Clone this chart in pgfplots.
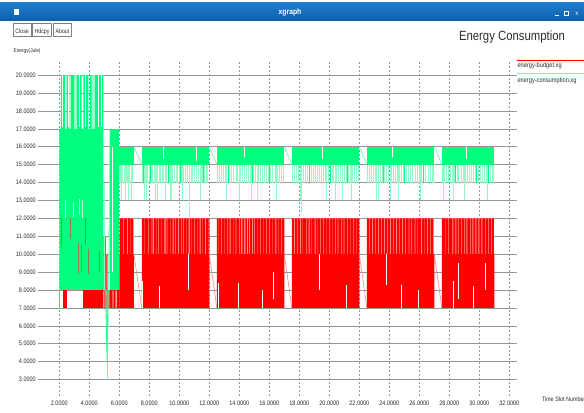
\documentclass[border=0pt]{standalone}
\usepackage{pgfplots}
\pgfplotsset{compat=1.18}
\usepackage{fontspec}
\setmainfont{Liberation Sans}[FakeStretch=0.85]
\definecolor{sg}{RGB}{0,255,127}
\definecolor{sgpale}{RGB}{150,250,200}
\definecolor{redpale}{RGB}{255,150,150}
\definecolor{brn}{RGB}{175,95,50}
\definecolor{gridc}{RGB}{150,150,150}
\definecolor{txt}{RGB}{45,45,45}
\definecolor{bart}{RGB}{30,125,205}
\definecolor{barb}{RGB}{15,95,170}
\newcommand\tickf{\fontsize{6.5}{7}\selectfont}
\begin{document}
\begin{tikzpicture}[x=1bp,y=1bp]
\fill[white] (0,0) rectangle (584,412);
% window title bar
\shade[top color=bart, bottom color=barb] (0,391) rectangle (584,409);
\fill[white] (14,397) rectangle (19,403);
\node[anchor=base, text=white, font=\bfseries\fontsize{8}{9}\selectfont] at (290,397) {xgraph};
\draw[white, line width=0.8bp] (555,396.5) -- (558.5,396.5);
\draw[white, line width=0.6bp] (564,396.5) rectangle (568,400.5);
\node[anchor=base, text=white, font=\fontsize{6.5}{7}\selectfont] at (577,396.5) {x};
% buttons
\foreach \a/\b/\t in {13.3/31/Close, 32.3/51.7/Hdcpy, 53.3/71.7/About}{
  \draw[gray, line width=0.6bp, fill=white] (\a,375.3) rectangle (\b,388.7);
  \node[anchor=base, text=txt, font=\fontsize{6.2}{7}\selectfont] at ({(\a+\b)/2},378.8) {\t};
}
\node[anchor=base west, inner sep=0pt, text=txt, font=\fontsize{5.6}{7}\selectfont] at (13.5,360) {Energy(Jule)};
\node[anchor=base, inner sep=0pt, text=txt, font=\fontsize{13.4}{15}\selectfont] at (512,372) {Energy Consumption};

\begin{axis}[
  at={(37.5bp,16bp)}, anchor=south west, scale only axis,
  width=479.5bp, height=336bp,
  xmin=0.547, xmax=32.51, ymin=2.08, ymax=20.84,
  axis line style={draw=none}, major tick length=0pt,
  xtick={2,4,...,32}, ytick={3,4,...,20},
  grid=major,
  x grid style={gridc, dash pattern=on 2bp off 2bp, line width=0.5bp},
  y grid style={gridc, line width=0.5bp},
  xticklabel style={font=\tickf, anchor=north, inner sep=0pt, yshift=-5bp, text=txt},
  yticklabel style={font=\tickf, anchor=east, inner sep=0pt, xshift=-1.5bp, text=txt},
  /pgf/number format/fixed, /pgf/number format/fixed zerofill,
  /pgf/number format/precision=4, /pgf/number format/assume math mode=true,
  no markers, clip=true,
]
% ---------------- energy-budget (red) ----------------
\addplot[draw=none, fill=redpale] coordinates {(6.02,10)(6.02,12)(6.97,12)(6.97,10)};
\addplot[draw=none, fill=redpale] coordinates {(7.5,10)(7.5,12)(12.0,12)(12.0,10)};
\addplot[draw=none, fill=redpale] coordinates {(12.5,10)(12.5,12)(17.0,12)(17.0,10)};
\addplot[draw=none, fill=redpale] coordinates {(17.5,10)(17.5,12)(22.0,12)(22.0,10)};
\addplot[draw=none, fill=redpale] coordinates {(22.5,10)(22.5,12)(27.0,12)(27.0,10)};
\addplot[draw=none, fill=redpale] coordinates {(27.5,10)(27.5,12)(31.0,12)(31.0,10)};
% early blocks
\addplot[red!50!white, line width=0.5bp, quiver={u=0,v=\thisrow{v}}] table[row sep=\\] {x y v\\ 2.0 7 1\\};
\addplot[draw=none, fill=red] coordinates {(2.27,7)(2.27,8)(2.49,8)(2.49,7)};
\addplot[draw=none, fill=red] coordinates {(3.60,7)(3.60,8)(4.93,8)(4.93,7)};
\addplot[const plot, draw=none, fill=red!70!white] table[row sep=\\] {x y\\ 4.93 7\\ 4.93 11\\ 5.10 10\\ 5.22 8\\ 5.38 7\\};
\addplot[const plot, draw=none, fill=red] table[row sep=\\] {x y\\ 5.38 7\\ 5.38 8\\ 5.55 7\\ 5.60 8\\ 5.76 7\\ 5.82 8\\ 6.02 7\\};
\addplot[draw=none, fill=red!45!white] coordinates {(5.85,8)(5.85,10)(6.02,10)(6.02,8)};
% segments: band 7-10 with spikes to 12
\addplot[const plot, draw=none, fill=red] table[row sep=\\] {x y\\
6.02 7\\ 6.02 12\\ 6.25 10\\ 6.30 12\\ 6.52 10\\ 6.58 12\\ 6.70 10\\ 6.74 12\\ 6.90 10\\ 6.97 7\\};
\addplot[const plot, draw=none, fill=red] table[row sep=\\] {x y\\
7.50 7\\ 7.50 12\\ 7.68 10\\ 7.72 12\\ 7.90 10\\ 7.95 12\\ 8.10 10\\ 8.14 12\\ 8.22 10\\ 8.30 12\\
8.45 10\\ 8.49 12\\ 8.60 10\\ 8.66 12\\ 8.80 10\\ 8.84 12\\ 9.00 10\\ 9.08 12\\ 9.15 10\\ 9.20 12\\
9.38 10\\ 9.42 12\\ 9.55 10\\ 9.62 12\\ 9.70 10\\ 9.75 12\\ 9.92 10\\ 9.98 12\\ 10.10 10\\ 10.16 12\\
10.25 10\\ 10.30 12\\ 10.48 10\\ 10.52 12\\ 10.62 10\\ 10.70 12\\ 10.80 10\\ 10.84 12\\ 11.00 10\\ 11.06 12\\
11.18 10\\ 11.22 12\\ 11.35 10\\ 11.42 12\\ 11.55 10\\ 11.58 12\\ 11.72 10\\ 11.78 12\\ 11.90 10\\ 11.94 12\\ 12.00 7\\};
\addplot[const plot, draw=none, fill=red] table[row sep=\\] {x y\\
12.50 7\\ 12.50 12\\ 12.62 10\\ 12.66 12\\ 12.80 10\\ 12.86 12\\ 12.98 10\\ 13.02 12\\ 13.20 10\\ 13.25 12\\
13.35 10\\ 13.42 12\\ 13.58 10\\ 13.62 12\\ 13.75 10\\ 13.80 12\\ 13.98 10\\ 14.04 12\\ 14.12 10\\ 14.20 12\\
14.32 10\\ 14.40 12\\ 14.50 10\\ 14.58 12\\ 14.66 10\\ 14.72 12\\ 14.85 10\\ 14.92 12\\ 15.00 10\\ 15.06 12\\
15.22 10\\ 15.26 12\\ 15.40 10\\ 15.45 12\\ 15.62 10\\ 15.66 12\\ 15.78 10\\ 15.84 12\\ 16.00 10\\ 16.05 12\\
16.22 10\\ 16.26 12\\ 16.40 10\\ 16.47 12\\ 16.60 10\\ 16.64 12\\ 16.80 10\\ 16.85 12\\ 17.00 7\\};
\addplot[const plot, draw=none, fill=red] table[row sep=\\] {x y\\
17.50 7\\ 17.50 12\\ 17.64 10\\ 17.70 12\\ 17.86 10\\ 17.90 12\\ 18.05 10\\ 18.12 12\\ 18.22 10\\ 18.26 12\\
18.45 10\\ 18.50 12\\ 18.62 10\\ 18.68 12\\ 18.82 10\\ 18.86 12\\ 19.02 10\\ 19.08 12\\ 19.20 10\\ 19.24 12\\
19.40 10\\ 19.46 12\\ 19.58 10\\ 19.64 12\\ 19.80 10\\ 19.84 12\\ 19.98 10\\ 20.04 12\\ 20.18 10\\ 20.22 12\\
20.38 10\\ 20.44 12\\ 20.56 10\\ 20.60 12\\ 20.78 10\\ 20.84 12\\ 20.96 10\\ 21.00 12\\ 21.18 10\\ 21.24 12\\
21.38 10\\ 21.42 12\\ 21.58 10\\ 21.64 12\\ 21.80 10\\ 21.84 12\\ 22.00 7\\};
\addplot[const plot, draw=none, fill=red] table[row sep=\\] {x y\\
22.50 7\\ 22.50 12\\ 22.66 10\\ 22.70 12\\ 22.84 10\\ 22.90 12\\ 23.04 10\\ 23.08 12\\ 23.26 10\\ 23.32 12\\
23.44 10\\ 23.48 12\\ 23.66 10\\ 23.72 12\\ 23.86 10\\ 23.90 12\\ 24.06 10\\ 24.12 12\\ 24.24 10\\ 24.28 12\\
24.46 10\\ 24.52 12\\ 24.64 10\\ 24.68 12\\ 24.86 10\\ 24.92 12\\ 25.06 10\\ 25.10 12\\ 25.28 10\\ 25.34 12\\
25.46 10\\ 25.50 12\\ 25.68 10\\ 25.74 12\\ 25.88 10\\ 25.92 12\\ 26.10 10\\ 26.16 12\\ 26.30 10\\ 26.34 12\\
26.52 10\\ 26.58 12\\ 26.72 10\\ 26.76 12\\ 26.92 10\\ 27.00 7\\};
\addplot[const plot, draw=none, fill=red] table[row sep=\\] {x y\\
27.50 7\\ 27.50 12\\ 27.70 10\\ 27.74 12\\ 27.92 10\\ 27.96 12\\ 28.20 10\\ 28.26 12\\ 28.40 10\\ 28.46 12\\
28.58 10\\ 28.64 12\\ 28.76 10\\ 28.82 12\\ 28.96 10\\ 29.02 12\\ 29.14 10\\ 29.20 12\\ 29.36 10\\ 29.42 12\\
29.54 10\\ 29.60 12\\ 29.74 10\\ 29.80 12\\ 29.94 10\\ 30.00 12\\ 30.14 10\\ 30.20 12\\ 30.36 10\\ 30.42 12\\
30.56 10\\ 30.62 12\\ 30.78 10\\ 30.84 12\\ 30.96 10\\ 31.00 7\\};
\addplot[red!55!white, line width=0.5bp] coordinates {(6.97,10)(7.5,7)};
\addplot[red!55!white, line width=0.5bp] coordinates {(12.0,10)(12.5,7)};
\addplot[red!55!white, line width=0.5bp] coordinates {(17.0,10)(17.5,7)};
\addplot[red!55!white, line width=0.5bp] coordinates {(22.0,10)(22.5,7)};
\addplot[red!55!white, line width=0.5bp] coordinates {(27.0,10)(27.5,7)};
\addplot[white, line width=0.6bp, quiver={u=0,v=\thisrow{v}}] table[row sep=\\] {x y v\\
7.56 7 1.5\\ 8.64 7 1.2\\ 10.58 8 2\\ 12.62 7 1.4\\ 13.93 7 1.4\\ 15.5 7 1\\ 16.25 7.5 1.5\\ 19.3 8 2\\
21.1 7 1.3\\ 23.8 8.3 1.7\\ 24.8 7 1.3\\ 25.9 7 1\\ 28.27 7 1.5\\ 28.6 7.5 2\\ 29.6 7 1.2\\ 30.4 8 1.5\\};
% ---------------- energy-consumption (green) ----------------
\addplot[const plot, draw=none, fill=sg] table[row sep=\\] {x y\\
2.00 8\\ 2.00 17\\ 2.11 20\\ 2.38 17\\ 2.49 20\\ 2.67 17\\ 2.76 20\\ 2.98 17\\ 3.16 20\\ 3.49 17\\
3.60 20\\ 3.93 17\\ 4.05 20\\ 4.16 17\\ 4.38 20\\ 4.93 8\\};
\addplot[draw=none, fill=sgpale] coordinates {(2.98,17)(2.98,20)(3.16,20)(3.16,17)};
\addplot[draw=none, fill=sgpale] coordinates {(4.16,17)(4.16,20)(4.38,20)(4.38,17)};
\addplot[draw=none, fill=sg] coordinates {(5.38,8)(5.38,17)(5.98,17)(5.98,8)};
\addplot[draw=none, fill=sg] coordinates {(5.98,15)(5.98,16)(6.97,16)(6.97,15)};
\addplot[draw=none, fill=sg] coordinates {(7.5,15)(7.5,16)(12.0,16)(12.0,15)};
\addplot[draw=none, fill=sg] coordinates {(12.5,15)(12.5,16)(17.0,16)(17.0,15)};
\addplot[draw=none, fill=sg] coordinates {(17.5,15)(17.5,16)(22.0,16)(22.0,15)};
\addplot[draw=none, fill=sg] coordinates {(22.5,15)(22.5,16)(27.0,16)(27.0,15)};
\addplot[draw=none, fill=sg] coordinates {(27.5,15)(27.5,16)(31.0,16)(31.0,15)};
\addplot[sgpale, line width=0.7bp, quiver={u=0,v=\thisrow{v}}] table[row sep=\\] {x y v\\
6.03 15 -1\\ 6.10 15 -1\\ 6.22 15 -1\\ 6.31 15 -1\\ 6.44 15 -1\\ 6.55 15 -1\\ 6.64 15 -1\\ 6.78 15 -1\\ 6.88 15 -1\\
7.55 15 -1\\ 7.62 15 -1\\ 7.74 15 -1\\ 7.90 15 -1\\ 7.97 15 -1\\ 8.12 15 -1\\ 8.20 15 -1\\ 8.33 15 -1\\ 8.48 15 -1\\
8.66 15 -1\\ 8.74 15 -1\\ 8.86 15 -1\\ 8.95 15 -1\\ 9.12 15 -1\\ 9.25 15 -1\\ 9.33 15 -1\\ 9.56 15 -1\\ 9.68 15 -1\\
9.80 15 -1\\ 9.90 15 -1\\ 10.02 15 -1\\ 10.12 15 -1\\ 10.30 15 -1\\ 10.40 15 -1\\ 10.52 15 -1\\ 10.78 15 -1\\
10.90 15 -1\\ 11.02 15 -1\\ 11.15 15 -1\\ 11.26 15 -1\\ 11.46 15 -1\\ 11.55 15 -1\\ 11.68 15 -1\\ 11.80 15 -1\\ 11.90 15 -1\\
12.55 15 -1\\ 12.68 15 -1\\ 12.80 15 -1\\ 12.95 15 -1\\ 13.05 15 -1\\ 13.24 15 -1\\ 13.35 15 -1\\ 13.50 15 -1\\
13.62 15 -1\\ 13.78 15 -1\\ 13.90 15 -1\\ 14.08 15 -1\\ 14.20 15 -1\\ 14.36 15 -1\\ 14.48 15 -1\\ 14.62 15 -1\\
14.74 15 -1\\ 14.95 15 -1\\ 15.08 15 -1\\ 15.30 15 -1\\ 15.42 15 -1\\ 15.55 15 -1\\ 15.70 15 -1\\ 15.82 15 -1\\
15.96 15 -1\\ 16.10 15 -1\\ 16.22 15 -1\\ 16.38 15 -1\\ 16.56 15 -1\\ 16.70 15 -1\\ 16.82 15 -1\\ 16.94 15 -1\\
17.56 15 -1\\ 17.68 15 -1\\ 17.80 15 -1\\ 17.94 15 -1\\ 18.06 15 -1\\ 18.26 15 -1\\ 18.38 15 -1\\ 18.52 15 -1\\
18.64 15 -1\\ 18.80 15 -1\\ 18.92 15 -1\\ 19.06 15 -1\\ 19.20 15 -1\\ 19.34 15 -1\\ 19.50 15 -1\\ 19.62 15 -1\\
19.74 15 -1\\ 19.92 15 -1\\ 20.06 15 -1\\ 20.20 15 -1\\ 20.30 15 -1\\ 20.48 15 -1\\ 20.60 15 -1\\ 20.74 15 -1\\
21.00 15 -1\\ 21.12 15 -1\\ 21.28 15 -1\\ 21.40 15 -1\\ 21.54 15 -1\\ 21.66 15 -1\\ 21.80 15 -1\\ 21.92 15 -1\\
22.56 15 -1\\ 22.70 15 -1\\ 22.82 15 -1\\ 22.96 15 -1\\ 23.06 15 -1\\ 23.26 15 -1\\ 23.40 15 -1\\ 23.52 15 -1\\
23.66 15 -1\\ 23.80 15 -1\\ 23.92 15 -1\\ 24.14 15 -1\\ 24.26 15 -1\\ 24.40 15 -1\\ 24.56 15 -1\\ 24.70 15 -1\\
24.82 15 -1\\ 24.96 15 -1\\ 25.12 15 -1\\ 25.26 15 -1\\ 25.40 15 -1\\ 25.56 15 -1\\ 25.70 15 -1\\ 25.84 15 -1\\
25.98 15 -1\\ 26.14 15 -1\\ 26.28 15 -1\\ 26.42 15 -1\\ 26.60 15 -1\\ 26.74 15 -1\\ 26.86 15 -1\\ 26.96 15 -1\\
27.56 15 -1\\ 27.66 15 -1\\ 27.80 15 -1\\ 27.94 15 -1\\ 28.08 15 -1\\ 28.20 15 -1\\ 28.36 15 -1\\ 28.50 15 -1\\
28.62 15 -1\\ 28.78 15 -1\\ 28.90 15 -1\\ 29.06 15 -1\\ 29.20 15 -1\\ 29.34 15 -1\\ 29.48 15 -1\\ 29.62 15 -1\\
29.76 15 -1\\ 29.90 15 -1\\ 30.04 15 -1\\ 30.18 15 -1\\ 30.32 15 -1\\ 30.46 15 -1\\ 30.60 15 -1\\ 30.74 15 -1\\
30.88 15 -1\\ 30.96 15 -1\\
6.14 15 -2\\ 6.38 15 -2\\ 6.60 15 -2\\ 6.82 15 -2\\ 7.66 15 -2\\ 7.82 15 -2\\ 8.42 15 -2\\ 8.56 15 -2\\ 9.05 15 -2\\
9.40 15 -2\\ 9.48 15 -2\\ 10.20 15 -2\\ 11.38 15 -2\\ 13.16 15 -2\\ 13.98 15 -2\\ 14.83 15 -2\\ 15.20 15 -2\\
16.50 15 -2\\ 18.10 15 -2\\ 19.80 15 -2\\ 20.38 15 -2\\ 20.90 15 -2\\ 21.50 15 -2\\ 23.16 15 -2\\ 23.30 15 -2\\
24.05 15 -2\\ 24.60 15 -2\\ 26.05 15 -2\\ 27.58 15 -2\\ 28.27 15 -2\\ 29.00 15 -2\\ 30.50 15 -2\\
10.67 15 -3\\ 18.16 15 -2.7\\};
\addplot[sg, line width=0.8bp, quiver={u=0,v=\thisrow{v}}] table[row sep=\\] {x y v\\
7.60 15 -1\\ 8.10 15 -1\\ 9.30 15 -1\\ 10.10 15 -1\\ 11.60 15 -1\\ 13.30 15 -1\\ 14.90 15 -1\\ 16.00 15 -1\\
18.70 15 -1\\ 20.10 15 -1\\ 21.20 15 -1\\ 23.60 15 -1\\ 25.00 15 -1\\ 26.30 15 -1\\ 28.40 15 -1\\ 29.80 15 -1\\ 30.60 15 -1\\};
\addplot[sg!75!white, line width=0.5bp] coordinates {(6.97,16)(7.5,15)};
\addplot[sg!75!white, line width=0.5bp] coordinates {(12.0,16)(12.5,15)};
\addplot[sg!75!white, line width=0.5bp] coordinates {(17.0,16)(17.5,15)};
\addplot[sg!75!white, line width=0.5bp] coordinates {(22.0,16)(22.5,15)};
\addplot[sg!75!white, line width=0.5bp] coordinates {(27.0,16)(27.5,15)};
\addplot[sg, line width=0.8bp] coordinates {(5.08,8)(5.19,4)(5.24,8)};
\addplot[sg!70!white, line width=0.5bp] coordinates {(5.16,8)(5.21,3)(5.38,17)};
\addplot[sgpale, line width=0.6bp, quiver={u=0,v=\thisrow{v}}] table[row sep=\\] {x y v\\ 5.00 8 6\\ 5.30 9 7\\};
\addplot[white, line width=0.6bp, quiver={u=0,v=\thisrow{v}}] table[row sep=\\] {x y v\\
2.20 17.1 2.9\\ 2.58 17.1 2.9\\ 3.30 17.1 2.9\\ 3.75 17.1 2.9\\ 4.62 17.1 2.9\\ 4.78 17.1 2.9\\ 5.50 9 7\\
8.9 15.3 0.7\\ 11.1 15.2 0.8\\ 14.3 15.4 0.6\\ 19.5 15.3 0.7\\ 24.2 15.4 0.6\\ 29.1 15.3 0.7\\};
\addplot[white, opacity=0.7, line width=0.6bp, quiver={u=0,v=\thisrow{v}}] table[row sep=\\] {x y v\\
2.40 12 1\\ 2.90 12.1 0.8\\ 3.30 12.2 0.9\\ 3.55 12.0 1.0\\};
\addplot[brn, opacity=0.8, line width=0.8bp, quiver={u=0,v=\thisrow{v}}] table[row sep=\\] {x y v\\
2.16 10.4 1.6\\ 2.76 10.9 1.1\\ 3.71 10.5 1.5\\ 3.25 8.9 1.7\\ 3.45 9.0 1.5\\ 3.93 8.9 1.4\\ 4.70 9.0 1.2\\};
\end{axis}
% legend
\draw[red, line width=0.8bp] (517,352) -- (584,352);
\node[anchor=base west, inner sep=0pt, text=txt, font=\fontsize{6.7}{8}\selectfont] at (517.3,345) {energy-budget.xg};
\draw[sg!60!white, line width=0.8bp] (517,338.7) -- (584,338.7);
\node[anchor=base west, inner sep=0pt, text=txt, font=\fontsize{6.7}{8}\selectfont] at (517.3,330) {energy-consumption.xg};
\node[anchor=base west, inner sep=0pt, text=txt, font=\fontsize{6.4}{8}\selectfont] at (541.7,10.5) {Time Slot Number};
\pgfresetboundingbox
\useasboundingbox (0,0) rectangle (584,412);
\end{tikzpicture}
\end{document}
